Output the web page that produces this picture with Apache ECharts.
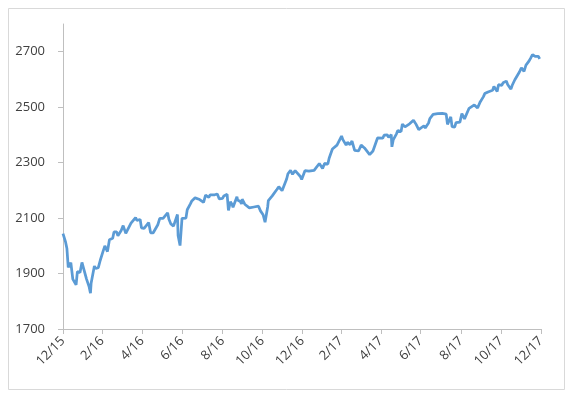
<!DOCTYPE html>
<html>
<head>
<meta charset="utf-8">
<script src="https://cdn.jsdelivr.net/npm/echarts@6/dist/echarts.min.js"></script>
<style>
  html, body { margin: 0; padding: 0; background: #fff; }
  #chart { width: 573px; height: 399px; }
</style>
</head>
<body>
<div id="chart"></div>
<script>
// S&P 500 closes, Dec 2015 - Dec 2017
const dates = [
  '2015-12-31', '2016-01-04', '2016-01-06', '2016-01-08', '2016-01-12', '2016-01-15', '2016-01-20', '2016-01-22',
  '2016-01-26', '2016-01-29', '2016-02-01', '2016-02-05', '2016-02-09', '2016-02-11', '2016-02-12', '2016-02-17',
  '2016-02-19', '2016-02-23', '2016-02-26', '2016-03-01', '2016-03-04', '2016-03-08', '2016-03-11', '2016-03-16',
  '2016-03-18', '2016-03-22', '2016-03-24', '2016-03-29', '2016-04-01', '2016-04-05', '2016-04-07', '2016-04-08',
  '2016-04-13', '2016-04-15', '2016-04-20', '2016-04-22', '2016-04-27', '2016-04-29', '2016-05-03', '2016-05-06',
  '2016-05-10', '2016-05-13', '2016-05-17', '2016-05-19', '2016-05-20', '2016-05-24', '2016-05-27', '2016-06-01',
  '2016-06-03', '2016-06-08', '2016-06-10', '2016-06-13', '2016-06-16', '2016-06-17', '2016-06-23', '2016-06-24',
  '2016-06-27', '2016-06-30', '2016-07-01', '2016-07-06', '2016-07-08', '2016-07-13', '2016-07-15', '2016-07-20',
  '2016-07-22', '2016-07-27', '2016-07-29', '2016-08-02', '2016-08-05', '2016-08-10', '2016-08-12', '2016-08-15',
  '2016-08-19', '2016-08-23', '2016-08-26', '2016-08-31', '2016-09-02', '2016-09-07', '2016-09-09', '2016-09-12',
  '2016-09-15', '2016-09-16', '2016-09-22', '2016-09-23', '2016-09-27', '2016-09-29', '2016-09-30', '2016-10-04',
  '2016-10-07', '2016-10-11', '2016-10-14', '2016-10-18', '2016-10-21', '2016-10-25', '2016-10-28', '2016-11-01',
  '2016-11-04', '2016-11-08', '2016-11-09', '2016-11-11', '2016-11-15', '2016-11-18', '2016-11-22', '2016-11-25',
  '2016-11-30', '2016-12-02', '2016-12-07', '2016-12-09', '2016-12-13', '2016-12-16', '2016-12-20', '2016-12-23',
  '2016-12-28', '2016-12-30', '2017-01-04', '2017-01-06', '2017-01-10', '2017-01-13', '2017-01-18', '2017-01-20',
  '2017-01-26', '2017-01-27', '2017-01-31', '2017-02-03', '2017-02-08', '2017-02-10', '2017-02-15', '2017-02-17',
  '2017-02-22', '2017-02-24', '2017-03-01', '2017-03-03', '2017-03-08', '2017-03-10', '2017-03-14', '2017-03-17',
  '2017-03-21', '2017-03-24', '2017-03-27', '2017-03-31', '2017-04-05', '2017-04-07', '2017-04-13', '2017-04-18',
  '2017-04-21', '2017-04-25', '2017-04-28', '2017-05-03', '2017-05-05', '2017-05-10', '2017-05-12', '2017-05-16',
  '2017-05-17', '2017-05-19', '2017-05-24', '2017-05-26', '2017-05-31', '2017-06-02', '2017-06-06', '2017-06-09',
  '2017-06-13', '2017-06-16', '2017-06-19', '2017-06-23', '2017-06-27', '2017-06-30', '2017-07-05', '2017-07-07',
  '2017-07-12', '2017-07-14', '2017-07-19', '2017-07-21', '2017-07-26', '2017-07-28', '2017-08-02', '2017-08-04',
  '2017-08-08', '2017-08-10', '2017-08-11', '2017-08-15', '2017-08-17', '2017-08-18', '2017-08-21', '2017-08-23',
  '2017-08-25', '2017-08-29', '2017-09-01', '2017-09-05', '2017-09-08', '2017-09-12', '2017-09-15', '2017-09-20',
  '2017-09-22', '2017-09-25', '2017-09-29', '2017-10-04', '2017-10-06', '2017-10-11', '2017-10-13', '2017-10-18',
  '2017-10-20', '2017-10-25', '2017-10-27', '2017-11-01', '2017-11-03', '2017-11-08', '2017-11-10', '2017-11-15',
  '2017-11-17', '2017-11-21', '2017-11-24', '2017-11-28', '2017-12-01', '2017-12-05', '2017-12-08', '2017-12-12',
  '2017-12-15', '2017-12-18', '2017-12-22', '2017-12-27', '2017-12-29'
];
const closes = [
  2044, 2013, 1990, 1922, 1939, 1880, 1859, 1907,
  1904, 1940, 1939, 1880, 1852, 1829, 1865, 1927,
  1918, 1921, 1948, 1978, 2000, 1979, 2022, 2027,
  2050, 2050, 2036, 2055, 2073, 2045, 2042, 2048,
  2082, 2081, 2102, 2092, 2095, 2065, 2063, 2057,
  2084, 2047, 2047, 2040, 2052, 2076, 2099, 2099,
  2099, 2119, 2096, 2079, 2078, 2071, 2113, 2037,
  2001, 2099, 2103, 2100, 2130, 2152, 2162, 2173,
  2175, 2167, 2174, 2157, 2183, 2175, 2184, 2190,
  2184, 2187, 2169, 2171, 2180, 2186, 2128, 2159,
  2147, 2139, 2177, 2165, 2160, 2151, 2168, 2150,
  2154, 2137, 2133, 2140, 2141, 2143, 2126, 2112,
  2085, 2140, 2163, 2164, 2180, 2182, 2203, 2213,
  2199, 2192, 2241, 2260, 2272, 2258, 2271, 2264,
  2250, 2239, 2271, 2277, 2269, 2275, 2272, 2271,
  2297, 2295, 2279, 2297, 2295, 2316, 2349, 2351,
  2363, 2367, 2396, 2383, 2363, 2373, 2365, 2378,
  2344, 2344, 2342, 2363, 2353, 2356, 2329, 2342,
  2349, 2389, 2384, 2388, 2399, 2400, 2391, 2401,
  2357, 2382, 2404, 2416, 2412, 2439, 2429, 2432,
  2440, 2433, 2453, 2438, 2419, 2423, 2433, 2425,
  2443, 2459, 2474, 2473, 2477, 2472, 2478, 2477,
  2475, 2438, 2441, 2465, 2430, 2426, 2428, 2444,
  2443, 2446, 2477, 2458, 2461, 2496, 2500, 2508,
  2502, 2497, 2519, 2538, 2549, 2555, 2553, 2561,
  2575, 2557, 2581, 2579, 2588, 2594, 2582, 2565,
  2579, 2599, 2602, 2627, 2642, 2629, 2652, 2664,
  2676, 2690, 2683, 2683, 2674
];
// x tick labels every two months (month ends)
const xTickDates = [
  '2015-12-31', '2016-02-29', '2016-04-30', '2016-06-30', '2016-08-31', '2016-10-31', '2016-12-31',
  '2017-02-28', '2017-04-30', '2017-06-30', '2017-08-31', '2017-10-31', '2017-12-31'
];
const yTicks = [1700, 1900, 2100, 2300, 2500, 2700];

const toTime = s => Date.UTC(+s.slice(0, 4), +s.slice(5, 7) - 1, +s.slice(8, 10));
const xTicks = xTickDates.map(toTime);
const seriesData = dates.map((d, i) => [toTime(d), closes[i]]);

const chart = echarts.init(document.getElementById('chart'));
const labelFont = { fontFamily: 'Open Sans', fontSize: 13, color: '#404040' };

chart.setOption({
  backgroundColor: '#fff',
  animation: false,
  graphic: [{
    type: 'rect',
    shape: { x: 8.5, y: 8.5, width: 556, height: 381 },
    style: { fill: 'none', stroke: '#d9d9d9', lineWidth: 1 },
    z: -1
  }],
  grid: {
    left: 63,
    right: 32,
    top: 24,
    bottom: 70
  },
  xAxis: {
    type: 'value',
    min: xTicks[0],
    max: xTicks[xTicks.length - 1],
    axisLine: { lineStyle: { color: '#bfbfbf', width: 1 } },
    axisTick: {
      show: true,
      length: 5,
      customValues: xTicks,
      lineStyle: { color: '#bfbfbf' }
    },
    axisLabel: Object.assign({
      customValues: xTicks,
      rotate: 45,
      margin: 10,
      hideOverlap: false,
      formatter: function (v) {
        const d = new Date(v);
        const m = d.getUTCMonth() + 1;
        const y = String(d.getUTCFullYear()).slice(2);
        return m + '/' + y;
      }
    }, labelFont),
    splitLine: { show: false }
  },
  yAxis: {
    type: 'value',
    min: 1700,
    max: 2800,
    axisLine: { show: true, lineStyle: { color: '#bfbfbf', width: 1 } },
    axisTick: {
      show: true,
      length: 5,
      customValues: yTicks,
      lineStyle: { color: '#bfbfbf' }
    },
    axisLabel: Object.assign({
      customValues: yTicks,
      margin: 18,
      formatter: v => String(v)
    }, labelFont),
    splitLine: { show: false }
  },
  series: [{
    type: 'line',
    data: seriesData,
    showSymbol: false,
    lineStyle: { color: '#5b9bd5', width: 2.75 },
    itemStyle: { color: '#5b9bd5' }
  }]
});
</script>
</body>
</html>
